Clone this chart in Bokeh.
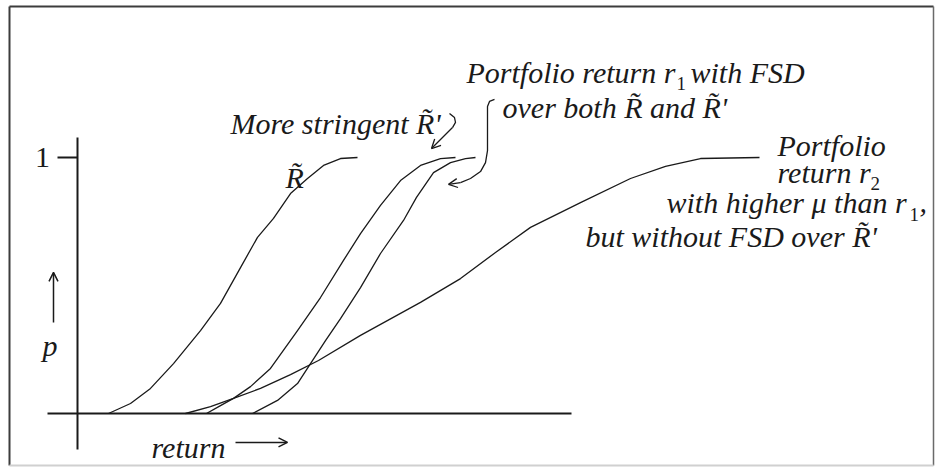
from bokeh.plotting import figure
from bokeh.models import Range1d, Arrow, OpenHead
from bokeh.core.properties import value
from bokeh.embed import file_html
from bokeh.resources import INLINE

# ---- data (return in arbitrary units, p = cumulative probability) ----
R_return = [0.62, 1.06, 1.46, 1.92, 2.46, 2.86, 3.26, 3.60, 3.92, 4.26, 4.60, 4.92, 5.26, 5.60]
R_p      = [0.000, 0.039, 0.098, 0.195, 0.324, 0.430, 0.570, 0.688, 0.762, 0.859, 0.918, 0.969, 0.996, 1.000]

Rprime_return = [2.58, 2.86, 3.12, 3.46, 3.86, 4.40, 4.86, 5.32, 5.66, 6.06, 6.46, 6.86, 7.26, 7.56]
Rprime_p      = [0.000, 0.031, 0.059, 0.105, 0.176, 0.324, 0.453, 0.598, 0.703, 0.813, 0.910, 0.969, 0.996, 1.000]

r1_return = [3.50, 4.00, 4.40, 4.66, 4.96, 5.26, 5.66, 6.06, 6.52, 6.78, 7.12, 7.46, 7.76, 7.96]
r1_p      = [0.000, 0.051, 0.117, 0.195, 0.285, 0.371, 0.492, 0.625, 0.754, 0.844, 0.941, 0.980, 0.996, 1.000]

r2_return = [2.16, 2.66, 3.12, 3.66, 4.26, 4.82, 5.66, 6.86, 7.66, 8.36, 9.06, 10.06, 11.06, 11.76, 12.46, 13.64]
r2_p      = [0.000, 0.027, 0.059, 0.098, 0.152, 0.207, 0.305, 0.434, 0.527, 0.629, 0.727, 0.824, 0.918, 0.965, 0.996, 1.000]

y_ticks = [1]
y_tick_labels = ["1"]

# ---- figure ----
W, H = 936, 467
X0, X1 = -1.54, 17.18
P0, P1 = -0.21094, 1.61328

p = figure(width=W, height=H, x_range=Range1d(X0, X1), y_range=Range1d(P0, P1),
           output_backend="svg", toolbar_location=None, min_border=0,
           x_axis_location=None, y_axis_location=None)
p.grid.visible = False
p.background_fill_color = "white"
p.border_fill_color = "white"
p.outline_line_color = None

INK = "#1a1a1a"
FONT = "Liberation Serif"

# picture frame (inset border of the original image)
FL, FR, FT, FB = -1.36, 17.12, 1.590, -0.203
p.segment(x0=[FL], y0=[FB], x1=[FL], y1=[FT], line_color="#3c3c3c", line_width=2)
p.segment(x0=[FL], y0=[FT], x1=[FR], y1=[FT], line_color="#3c3c3c", line_width=2)
p.segment(x0=[FR], y0=[FB], x1=[FR], y1=[FT], line_color="#6a6a6a", line_width=1.5)
p.segment(x0=[FL], y0=[FB], x1=[FR], y1=[FB], line_color="#d0d0d0", line_width=2)

# axes drawn as lines through data scales
p.segment(x0=[-0.6], y0=[0], x1=[9.88], y1=[0], line_color=INK, line_width=2)
p.segment(x0=[0], y0=[-0.141], x1=[0], y1=[1.078], line_color=INK, line_width=2)
p.segment(x0=[-0.4] * len(y_ticks), y0=y_ticks, x1=[0] * len(y_ticks), y1=y_ticks,
          line_color=INK, line_width=2)

# curves
for xs, ys in [(R_return, R_p), (Rprime_return, Rprime_p), (r1_return, r1_p), (r2_return, r2_p)]:
    p.line(xs, ys, line_color=INK, line_width=1.3, line_join="round")


def txt(x, y, s, size="30px", style="italic", align="left", baseline="alphabetic", font=FONT):
    p.text(x=[x], y=[y], text=[s], text_font=value(font), text_font_size=value(size),
           text_font_style=style, text_align=align, text_baseline=baseline, text_color=INK)


SUB = "19px"

# tick label
for t, lab in zip(y_ticks, y_tick_labels):
    txt(-0.7, t, lab, size="30px", style="normal", align="center", baseline="middle")

# axis labels with arrows
txt(-0.7, 0.266, "p")
p.add_layout(Arrow(x_start=-0.48, y_start=0.355, x_end=-0.48, y_end=0.551,
                   line_color=INK, line_width=1.5,
                   end=OpenHead(size=9, line_color=INK, line_width=1.5)))
txt(1.48, -0.133, "return")
p.add_layout(Arrow(x_start=3.16, y_start=-0.113, x_end=4.2, y_end=-0.113,
                   line_color=INK, line_width=1.5,
                   end=OpenHead(size=9, line_color=INK, line_width=1.5)))

# curve labels
txt(4.16, 0.922, "R\u0303")
txt(3.06, 1.133, "More stringent R\u0303'")
txt(7.78, 1.332, "Portfolio return r")
txt(11.98, 1.289, "1", size=SUB, style="normal")
txt(12.26, 1.332, "with FSD")
txt(8.5, 1.195, "over both R\u0303 and R\u0303'")

txt(14.0, 1.047, "Portfolio")
txt(14.0, 0.941, "return r")
txt(15.86, 0.898, "2", size=SUB, style="normal")
txt(11.78, 0.824, "with higher \u03bc than r")
txt(16.64, 0.777, "1", size=SUB, style="normal")
txt(16.84, 0.824, ",")
txt(10.16, 0.691, "but without FSD over R\u0303'")

# pointer from "More stringent R'" to its curve
p.line([7.44, 7.54, 7.56, 7.50], [1.172, 1.156, 1.137, 1.117], line_color=INK, line_width=1.3)
p.add_layout(Arrow(x_start=7.50, y_start=1.117, x_end=7.08, y_end=1.035,
                   line_color=INK, line_width=1.3,
                   end=OpenHead(size=9, line_color=INK, line_width=1.3)))

# pointer from "over both" to r1
p.line([8.34, 8.24, 8.20, 8.20, 8.16, 8.06, 7.86, 7.66],
       [1.227, 1.219, 1.199, 1.027, 0.980, 0.945, 0.918, 0.902], line_color=INK, line_width=1.3)
p.add_layout(Arrow(x_start=7.66, y_start=0.902, x_end=7.42, y_end=0.895,
                   line_color=INK, line_width=1.3,
                   end=OpenHead(size=9, line_color=INK, line_width=1.3)))

open("out.html", "w").write(file_html(p, INLINE))
